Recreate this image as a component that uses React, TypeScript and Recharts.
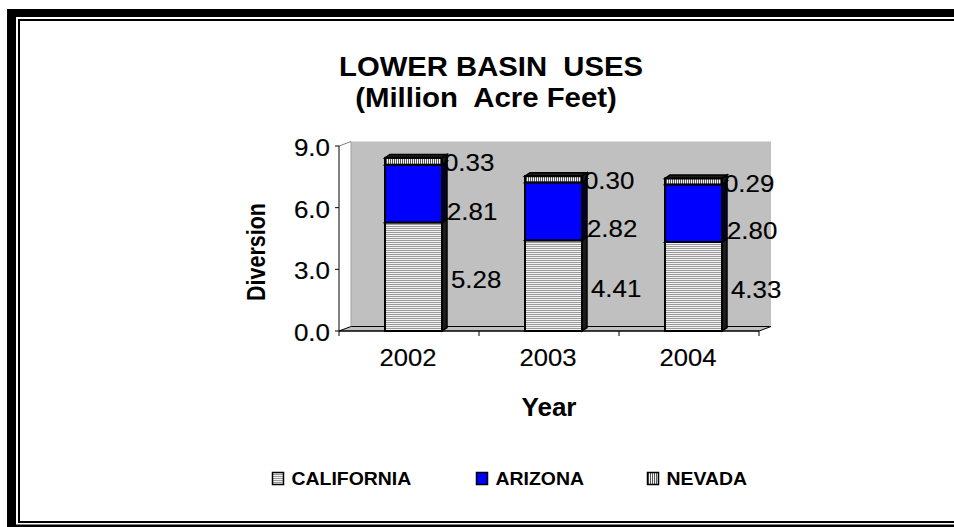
import React from "react";
import { BarChart, Bar, XAxis, YAxis, LabelList } from "recharts";

// water use by state, million acre feet
const years = ["2002", "2003", "2004"];
const california = [5.28, 4.41, 4.33];
const arizona = [2.81, 2.82, 2.8];
const nevada = [0.33, 0.3, 0.29];
const yTicks = [0, 3, 6, 9];
const seriesNames = ["CALIFORNIA", "ARIZONA", "NEVADA"];

const rows = years.map((year, i) => ({
  year,
  CALIFORNIA: california[i],
  ARIZONA: arizona[i],
  NEVADA: nevada[i],
}));

const W = 954;
const H = 527;
const PLOT = { left: 339, top: 146, right: 759, bottom: 331 };
const Y_AXIS_W = 80;
const X_AXIS_H = 60;
const DEPTH = { x: 12, y: 4.5 };
const BAR_SHIFT = 4;
const BAR_DEPTH = { x: 5, y: 3.5 };
const FONT = "'Liberation Sans', Arial, Helvetica, sans-serif";
// plain text in the source is rendered a touch heavier than ours
const THICKEN = { stroke: "#000", strokeWidth: 0.15 };

const seriesStyle: Record<string, any> = {
  CALIFORNIA: { fill: "url(#calHatch)", side: "#1c1c1c", labelDx: 9, labelDy: 3 },
  ARIZONA: { fill: "#0000ff", side: "#00002a", labelDx: 5, labelDy: 18 },
  NEVADA: { fill: "url(#nevHatch)", side: "#1c1c1c", labelDx: 2, labelDy: 2 },
};

// legend item left edges (swatch)
const legendX = [272.5, 476.5, 647.5];

function Box3D(props: any) {
  const { fill, side } = props;
  const x = props.x + BAR_SHIFT;
  const y = props.y;
  const w = props.width;
  const h = props.height;
  if (!w || h == null) return null;
  const dx = BAR_DEPTH.x;
  const dy = BAR_DEPTH.y;
  return (
    <g>
      <polygon
        points={`${x + w},${y} ${x + w + dx},${y - dy} ${x + w + dx},${y + h - dy} ${x + w},${y + h}`}
        fill={side}
        stroke="#000"
        strokeWidth={1.5}
      />
      <polygon
        points={`${x},${y} ${x + dx},${y - dy} ${x + w + dx},${y - dy} ${x + w},${y}`}
        fill={side}
        stroke="#000"
        strokeWidth={1.5}
      />
      <rect x={x} y={y} width={w} height={h} fill={fill} stroke="#000" strokeWidth={2} />
    </g>
  );
}

function valueLabel(dx: number, dy: number) {
  return (p: any) => {
    const vb = p.viewBox || {};
    const x = (p.x ?? vb.x) as number;
    const y = (p.y ?? vb.y) as number;
    const w = (p.width ?? vb.width) as number;
    const h = (p.height ?? vb.height) as number;
    if (x == null || y == null) return null;
    const top = Math.min(y, y + h);
    const mid = top + Math.abs(h) / 2;
    return (
      <text
        transform={`translate(${x + BAR_SHIFT + w + dx},${mid + dy}) scale(1.1,1)`}
        fontFamily={FONT}
        fontSize={23.5}
        dominantBaseline="central"
        fill="#000"
        {...THICKEN}
      >
        {Number(p.value).toFixed(2)}
      </text>
    );
  };
}

function YTick(p: any) {
  return (
    <text
      transform={`translate(${p.x},${p.y + 2}) scale(1.13,1)`}
      fontFamily={FONT}
      fontSize={23}
      textAnchor="end"
      dominantBaseline="central"
      fill="#000"
      {...THICKEN}
    >
      {Number(p.payload.value).toFixed(1)}
    </text>
  );
}

function XTick(p: any) {
  const band = (PLOT.right - PLOT.left) / years.length;
  const left = p.x - band / 2;
  const last = p.index === years.length - 1;
  return (
    <g>
      <line x1={left} x2={left} y1={PLOT.bottom} y2={PLOT.bottom + 5} stroke="#000" />
      {last && <line x1={left + band} x2={left + band} y1={PLOT.bottom} y2={PLOT.bottom + 5} stroke="#000" />}
      <text
        transform={`translate(${p.x - 1},${PLOT.bottom + 27}) scale(1.09,1)`}
        fontFamily={FONT}
        fontSize={23.5}
        textAnchor="middle"
        dominantBaseline="central"
        fill="#000"
        {...THICKEN}
      >
        {p.payload.value}
      </text>
    </g>
  );
}

function Backdrop() {
  const wl = PLOT.left + DEPTH.x;
  const wt = PLOT.top - DEPTH.y;
  const pw = PLOT.right - PLOT.left;
  const ph = PLOT.bottom - PLOT.top;
  const legendFills = ["url(#calHatch)", "#0000ff", "url(#nevHatch)"];
  return (
    <svg width={W} height={H} style={{ position: "absolute", left: 0, top: 0 }}>
      <defs>
        <pattern id="calHatch" width={4} height={2} patternUnits="userSpaceOnUse">
          <rect width={4} height={2} fill="#f2f2f2" />
          <rect width={4} height={1} fill="#9a9a9a" />
        </pattern>
        <pattern id="nevHatch" width={2} height={4} patternUnits="userSpaceOnUse">
          <rect width={2} height={4} fill="#f2f2f2" />
          <rect width={1} height={4} fill="#5a5a5a" />
        </pattern>
      </defs>
      <rect width={W} height={H} fill="#fff" />

      {/* frame */}
      <rect x={7} y={9} width={9} height={H - 9} fill="#000" />
      <rect x={7} y={9} width={W - 7} height={8} fill="#000" />
      <rect x={18} y={19} width={2} height={504} fill="#000" />
      <rect x={18} y={19} width={W - 18} height={2} fill="#000" />
      <rect x={18} y={521} width={W - 18} height={2} fill="#000" />
      <rect x={7} y={524.5} width={W - 7} height={2.5} fill="#000" />

      {/* back wall and floor */}
      <rect x={wl} y={wt} width={pw} height={ph} fill="#c0c0c0" />
      <polygon
        points={`${PLOT.left},${PLOT.bottom} ${PLOT.right},${PLOT.bottom} ${PLOT.right + DEPTH.x},${PLOT.bottom - DEPTH.y} ${wl},${PLOT.bottom - DEPTH.y}`}
        fill="#c0c0c0"
        stroke="#000"
        strokeWidth={1}
      />
      <line x1={PLOT.left} y1={PLOT.top} x2={wl} y2={wt} stroke="#808080" />
      <line x1={wl} y1={wt} x2={wl} y2={PLOT.bottom - DEPTH.y} stroke="#a0a0a0" />

      {/* title */}
      <text
        transform={`translate(491,76) scale(1.045,1)`}
        fontFamily={FONT}
        fontWeight="bold"
        fontSize={28}
        textAnchor="middle"
        style={{ whiteSpace: "pre" }}
      >
        {"LOWER BASIN  USES"}
      </text>
      <text
        transform={`translate(486,107) scale(1.05,1)`}
        fontFamily={FONT}
        fontWeight="bold"
        fontSize={28}
        textAnchor="middle"
        style={{ whiteSpace: "pre" }}
      >
        {"(Million  Acre Feet)"}
      </text>

      {/* axis titles */}
      <text
        transform={`translate(256,252) scale(1.17,1) rotate(-90)`}
        fontFamily={FONT}
        fontWeight="bold"
        fontSize={21.5}
        textAnchor="middle"
        dominantBaseline="central"
      >
        Diversion
      </text>
      <text
        x={(PLOT.left + PLOT.right) / 2}
        y={416}
        fontFamily={FONT}
        fontWeight="bold"
        fontSize={26}
        textAnchor="middle"
      >
        Year
      </text>

      {/* legend */}
      {seriesNames.map((name, i) => (
        <g key={name}>
          <rect x={legendX[i]} y={472.5} width={11} height={12} fill={legendFills[i]} stroke="#000" strokeWidth={1.5} />
          <text
            transform={`translate(${legendX[i] + 19},485) scale(1.08,1)`}
            fontFamily={FONT}
            fontWeight="bold"
            fontSize={18}
          >
            {name}
          </text>
        </g>
      ))}
    </svg>
  );
}

export default function App() {
  return (
    <div style={{ position: "absolute", left: 0, top: 0, width: W, height: H, background: "#fff" }}>
      <Backdrop />
      <div style={{ position: "absolute", left: 0, top: 0 }}>
        <BarChart
          width={W}
          height={H}
          data={rows}
          barSize={57}
          margin={{
            top: PLOT.top,
            right: W - PLOT.right,
            bottom: H - PLOT.bottom - X_AXIS_H,
            left: PLOT.left - Y_AXIS_W,
          }}
        >
          <XAxis
            dataKey="year"
            height={X_AXIS_H}
            interval={0}
            axisLine={{ stroke: "#000" }}
            tickLine={false}
            tick={(p: any) => <XTick {...p} />}
          />
          <YAxis
            domain={[0, 9]}
            ticks={yTicks}
            interval={0}
            width={Y_AXIS_W}
            axisLine={{ stroke: "#000" }}
            tickLine={{ stroke: "#000" }}
            tickSize={4}
            tickMargin={5}
            tick={(p: any) => <YTick {...p} />}
          />
          {seriesNames.map((name) => {
            const s = seriesStyle[name];
            return (
              <Bar
                key={name}
                dataKey={name}
                stackId="uses"
                isAnimationActive={false}
                shape={(p: any) => <Box3D {...p} fill={s.fill} side={s.side} />}
              >
                <LabelList dataKey={name} content={valueLabel(s.labelDx, s.labelDy)} />
              </Bar>
            );
          })}
        </BarChart>
      </div>
    </div>
  );
}
